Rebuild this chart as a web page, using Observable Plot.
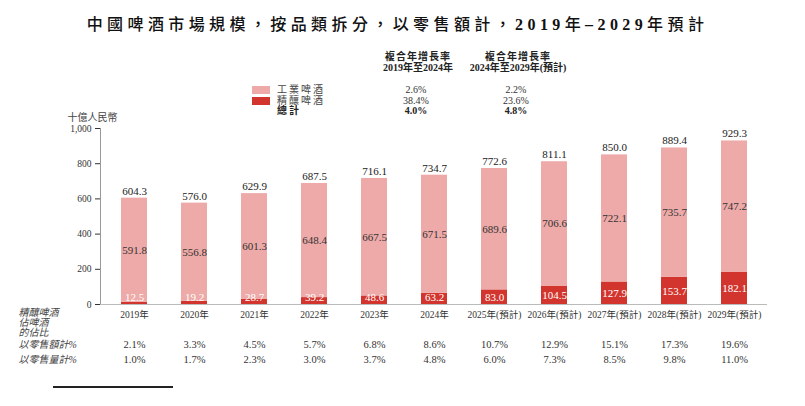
<!DOCTYPE html>
<html>
<head>
<meta charset="utf-8">
<script src="https://cdn.jsdelivr.net/npm/d3@7"></script>
<script src="https://cdn.jsdelivr.net/npm/@observablehq/plot@0.6"></script>
<style>
  body { margin:0; background:#fff; }
  #page { position:relative; width:805px; height:406px; overflow:hidden; background:#fff;
          font-family:"Liberation Serif","Noto Sans CJK TC",serif; color:#222; }
  .abs { position:absolute; white-space:nowrap; line-height:1; }
  .c { transform:translate(-50%,-50%); }
  .l { transform:translate(0,-50%); }
  #title { position:absolute; top:11px; left:0; width:795px; text-align:center; font-size:16px;
           letter-spacing:4.4px; font-weight:bold; color:#111;
           font-family:"Liberation Serif","Noto Sans CJK TC",serif; }
  .cjk { font-weight:500; }
  .sw { position:absolute; width:18px; height:8px; }
  .t10 { font-size:10px; }
  #chart { position:absolute; top:100px; left:0; }
</style>
</head>
<body>
<div id="page">
  <div id="title"><span class="cjk">中國啤酒市場規模，按品類拆分，以零售額計，</span>2019<span class="cjk">年</span>–2029<span class="cjk">年預計</span></div>
  <div id="legend"></div>
  <div id="chart"></div>
  <div class="abs" style="left:53px;top:386px;width:120px;height:1.5px;background:#222;"></div>
</div>
<script>
const years = ["2019年","2020年","2021年","2022年","2023年","2024年","2025年(預計)","2026年(預計)","2027年(預計)","2028年(預計)","2029年(預計)"];
const industrial = [591.8,556.8,601.3,648.4,667.5,671.5,689.6,706.6,722.1,735.7,747.2];
const craft = [12.5,19.2,28.7,39.2,48.6,63.2,83.0,104.5,127.9,153.7,182.1];
const totals = [604.3,576.0,629.9,687.5,716.1,734.7,772.6,811.1,850.0,889.4,929.3];
const shareByValue = ["2.1%","3.3%","4.5%","5.7%","6.8%","8.6%","10.7%","12.9%","15.1%","17.3%","19.6%"];
const shareByVolume = ["1.0%","1.7%","2.3%","3.0%","3.7%","4.8%","6.0%","7.3%","8.5%","9.8%","11.0%"];
const seriesNames = ["工業啤酒","精釀啤酒"];
const seriesColors = ["#EDAAA8","#D2352E"];
const cagrHeaders = [["複合年增長率","2019年至2024年"],["複合年增長率","2024年至2029年(預計)"]];
const cagrIndustrial = ["2.6%","2.2%"];
const cagrCraft = ["38.4%","23.6%"];
const cagrTotal = ["4.0%","4.8%"];
const yTicks = [0,200,400,600,800,1000];
const rowLabels = ["精釀啤酒","佔啤酒","的佔比","以零售額計%","以零售量計%"];
const rowLabelOffsets = [11, 21, 31, 43, 58];

// legend / CAGR table (HTML)
const lg = document.getElementById("legend");
function add(html, x, y, cls, style) {
  const d = document.createElement("div");
  d.className = "abs " + cls;
  d.style.left = x + "px"; d.style.top = y + "px";
  if (style) d.style.cssText += style;
  d.innerHTML = html; lg.appendChild(d);
}
const colX = [418, 518];
cagrHeaders.forEach((h, i) => {
  add(h[0], colX[i], 57, "c t10", "font-weight:bold;letter-spacing:1px;");
  add(h[1], colX[i], 68, "c t10", "font-weight:bold;");
});
[ [seriesNames[0], cagrIndustrial, 90, false], [seriesNames[1], cagrCraft, 100.5, false], ["總計", cagrTotal, 111, true] ]
  .forEach(([name, vals, y, bold], i) => {
    if (i < 2) {
      const s = document.createElement("div");
      s.className = "sw"; s.style.left = "252px"; s.style.top = (y - 4) + "px";
      s.style.background = seriesColors[i]; lg.appendChild(s);
    }
    add(name, 277, y, "l t10", "letter-spacing:2px;" + (bold ? "font-weight:bold;" : "color:#444;"));
    vals.forEach((v, j) => add(v, colX[j] - 2, y, "c t10", bold ? "font-weight:bold;" : "color:#333;"));
  });

// chart data
const data = [];
years.forEach((yr, i) => {
  data.push({year: yr, type: seriesNames[1], value: craft[i]});
  data.push({year: yr, type: seriesNames[0], value: industrial[i]});
});
const rows = years.map((yr, i) => ({year: yr, craft: craft[i], ind: industrial[i], total: totals[i], sv: shareByValue[i], sq: shareByVolume[i]}));

const font = "'Liberation Serif','Noto Sans CJK TC',serif";
const chart = Plot.plot({
  width: 805,
  height: 306,
  marginLeft: 100,
  marginRight: 38,
  marginTop: 28,
  marginBottom: 102,
  style: {fontFamily: font, fontSize: "9.5px", color: "#333", background: "transparent", overflow: "visible"},
  x: {domain: years, paddingInner: 0.57, paddingOuter: 0.285, tickSize: 0, tickPadding: 7, label: null},
  y: {domain: [0, 1000], ticks: yTicks, tickFormat: d3.format(","), tickSize: 5, tickPadding: 4, label: null},
  color: {domain: seriesNames, range: seriesColors},
  marks: [
    Plot.frame({anchor: "left", stroke: "#999"}),
    Plot.barY(data, {x: "year", y: "value", fill: "type", order: seriesNames.slice().reverse()}),
    Plot.ruleY([0], {stroke: "#bbb", strokeWidth: 1.2}),
    Plot.text(rows, {x: "year", y: d => d.craft + d.ind / 2, text: d => d.ind.toFixed(1), fill: "#333", fontSize: 11}),
    Plot.text(rows, {x: "year", y: d => Math.max(d.craft / 2, 38), text: d => d.craft.toFixed(1), fill: "#fff", fontSize: 11}),
    Plot.text(rows, {x: "year", y: "total", text: d => d.total.toFixed(1), dy: -7, fill: "#222", fontSize: 11}),
    Plot.text(rows, {x: "year", text: "sv", frameAnchor: "bottom", dy: 43, fill: "#333", fontSize: 10.5}),
    Plot.text(rows, {x: "year", text: "sq", frameAnchor: "bottom", dy: 58, fill: "#333", fontSize: 10.5}),
    Plot.text(["十億人民幣"], {frameAnchor: "top-left", dx: -8, dy: -15, textAnchor: "middle", fill: "#444", fontSize: 10, letterSpacing: 1}),
    ...rowLabels.map((lab, i) => Plot.text([lab], {frameAnchor: "bottom-left", text: d => d, dx: -82, dy: rowLabelOffsets[i], textAnchor: "start", fill: "#444", fontSize: 10, fontStyle: "italic", letterSpacing: 1}))
  ]
});
document.getElementById("chart").appendChild(chart);
</script>
</body>
</html>
